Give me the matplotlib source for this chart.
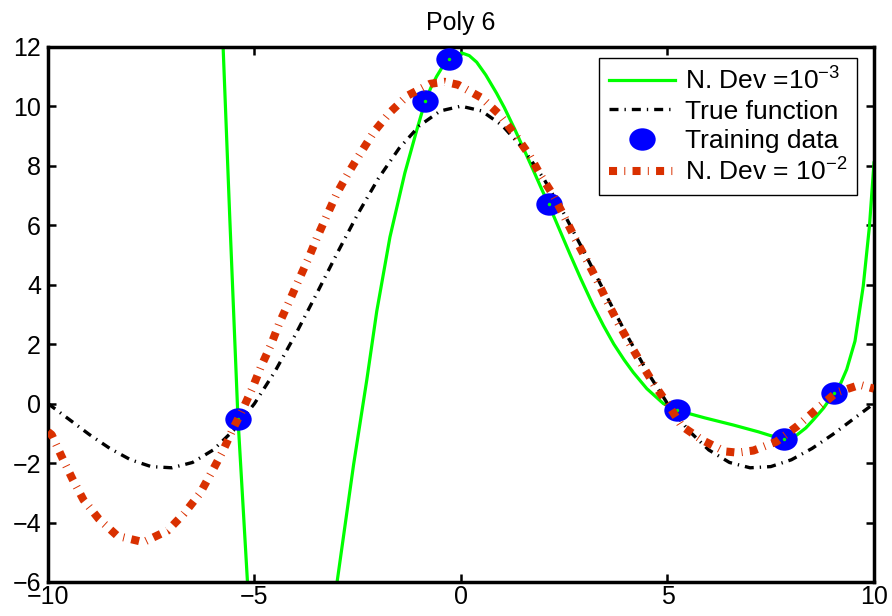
import numpy as np
import matplotlib
matplotlib.use('Agg')
import matplotlib.pyplot as plt
from matplotlib.path import Path
from matplotlib.transforms import Affine2D

plt.rcParams['font.family'] = ['Liberation Sans', 'DejaVu Sans']
plt.rcParams['mathtext.fontset'] = 'custom'
plt.rcParams['mathtext.rm'] = 'Liberation Sans'
plt.rcParams['mathtext.it'] = 'Liberation Sans:italic'

# values
train_x = [-5.40, -0.87, -0.29, 2.13, 5.24, 7.83, 9.02]
train_y = [-0.51, 10.19, 11.59, 6.72, -0.23, -1.18, 0.35]

true_x = [-10, -9.5, -9, -8.5, -8, -7.5, -7, -6.5, -6, -5.5, -5, -4.5, -4, -3.5, -3, -2.5,
          -2, -1.5, -1, -0.5, 0, 0.5, 1, 1.5, 2, 2.5, 3, 3.5, 4, 4.5, 5, 5.5, 6, 6.5,
          7, 7.5, 8, 8.5, 9, 9.5, 10]
true_y = [0, -0.52, -1.04, -1.51, -1.89, -2.12, -2.16, -1.98, -1.56, -0.89, 0, 1.09, 2.34,
          3.68, 5.05, 6.37, 7.57, 8.58, 9.35, 9.84, 10, 9.84, 9.35, 8.58, 7.57, 6.37, 5.05,
          3.68, 2.34, 1.09, 0, -0.89, -1.56, -1.98, -2.16, -2.12, -1.89, -1.51, -1.04, -0.52, 0]

# N. Dev = 1e-3 (green)
g_x = [-5.9, -5.76, -5.6, -5.4, -5.17, -5.0, -4.5, -4.0, -3.5, -3.0, -2.6, -2.28, -2.04,
       -1.72, -1.36, -1.07, -0.87, -0.73, -0.59, -0.45, -0.29, -0.15, 0.02, 0.2, 0.38,
       0.6, 0.86, 1.05, 1.31, 1.5, 1.75, 1.95, 2.13, 2.4, 2.64, 2.9, 3.2, 3.45, 3.7, 3.95,
       4.17, 4.5, 4.9, 5.24, 5.9, 6.59, 7.2, 7.5, 7.83, 8.0, 8.13, 8.35, 8.53, 8.78, 9.02,
       9.2, 9.34, 9.54, 9.74, 9.89, 10.0]
g_y = [17.0, 12.0, 6.3, -0.5, -6.0, -9.6, -15.5, -16.5, -12.8, -6.0, -2.05, 0.8, 3.1,
       5.6, 7.75, 9.2, 10.15, 10.62, 11.0, 11.32, 11.55, 11.7, 11.79, 11.7, 11.48,
       11.05, 10.44, 9.95, 9.2, 8.62, 7.85, 7.22, 6.68, 5.8, 5.02, 4.2, 3.3, 2.62, 2.0,
       1.47, 1.05, 0.5, 0.0, -0.23, -0.48, -0.72, -0.95, -1.08, -1.18, -1.14, -1.06,
       -0.82, -0.55, -0.15, 0.33, 0.7, 1.15, 2.1, 3.95, 5.96, 8.09]

# N. Dev = 1e-2 (red)
r_x = [-10.0, -9.91, -9.67, -9.41, -9.14, -8.77, -8.32, -7.69, -7.10, -6.70, -6.32, -6.05,
       -5.77, -5.53, -5.27, -5.05, -4.84, -4.60, -4.40, -4.16, -3.94, -3.70, -3.48, -3.24,
       -3.00, -2.73, -2.43, -2.10, -1.72, -1.30, -0.75, -0.40, -0.07, 0.50, 0.94, 1.31,
       1.65, 1.93, 2.24, 2.50, 2.76, 3.03, 3.29, 3.54, 3.81, 4.08, 4.36, 4.68, 5.02, 5.34,
       5.83, 6.39, 6.70, 7.08, 7.64, 8.15, 8.61, 9.09, 9.66, 10.0]
r_y = [-0.95, -1.05, -1.78, -2.53, -3.24, -3.88, -4.45, -4.66, -4.27, -3.69, -3.02, -2.34,
       -1.61, -0.88, -0.15, 0.52, 1.25, 1.98, 2.70, 3.43, 4.12, 4.86, 5.60, 6.35, 7.08,
       7.75, 8.43, 9.15, 9.79, 10.35, 10.75, 10.82, 10.72, 10.28, 9.71, 9.04, 8.37, 7.67,
       6.99, 6.29, 5.56, 4.86, 4.16, 3.43, 2.70, 2.03, 1.36, 0.63, -0.04, -0.75, -1.22,
       -1.61, -1.65, -1.58, -1.28, -0.75, -0.19, 0.37, 0.63, 0.50]

fig = plt.figure(figsize=(8.92, 6.16), dpi=100)
ax = fig.add_axes([0.0538, 0.0552, 0.926, 0.869])

ell = Path.unit_circle().transformed(Affine2D().scale(1.0, 0.85))

ax.plot(g_x, g_y, color='#00ff00', lw=2.3, label='N. Dev =$10^{-3}$', zorder=2)
ax.plot(true_x, true_y, color='black', lw=2.4, linestyle=(0, (2.7, 1.8, 0.4, 1.8)),
        dash_capstyle='butt', label='True function', zorder=3)
ax.plot(train_x, train_y, linestyle='none', marker=ell, markersize=19, color='#0000ff',
        markeredgewidth=0, label='Training data', zorder=4)
ax.plot(train_x, train_y, linestyle='none', marker='o', markersize=2.5, color='#00ff00',
        markeredgewidth=0, zorder=5)
ax.plot(r_x, r_y, color='#d93000', lw=5.8, linestyle=(0, (1.0, 0.9, 0.12, 0.9)),
        dash_capstyle='butt', label='N. Dev = $10^{-2}$', zorder=6)

ax.set_xlim(-10, 10)
ax.set_ylim(-6, 12)
ax.set_xticks([-10, -5, 0, 5, 10])
ax.set_yticks(np.arange(-6, 13, 2))
ax.tick_params(direction='in', length=5.8, width=1.8, labelsize=18, top=True, right=True)
ax.tick_params(axis='x', pad=2)
ax.tick_params(axis='y', pad=5)
for s in ax.spines.values():
    s.set_linewidth(2.5)
ax.set_title('Poly 6', fontsize=18, pad=12)

leg = ax.legend(loc='upper right', bbox_to_anchor=(0.979, 0.979), borderaxespad=0,
                fontsize=19, fancybox=False, edgecolor='black', framealpha=1,
                handlelength=2.5, labelspacing=0.2, borderpad=0.35, handletextpad=0.4)
leg.get_frame().set_linewidth(1.0)

fig.savefig('out.png', dpi=100)
